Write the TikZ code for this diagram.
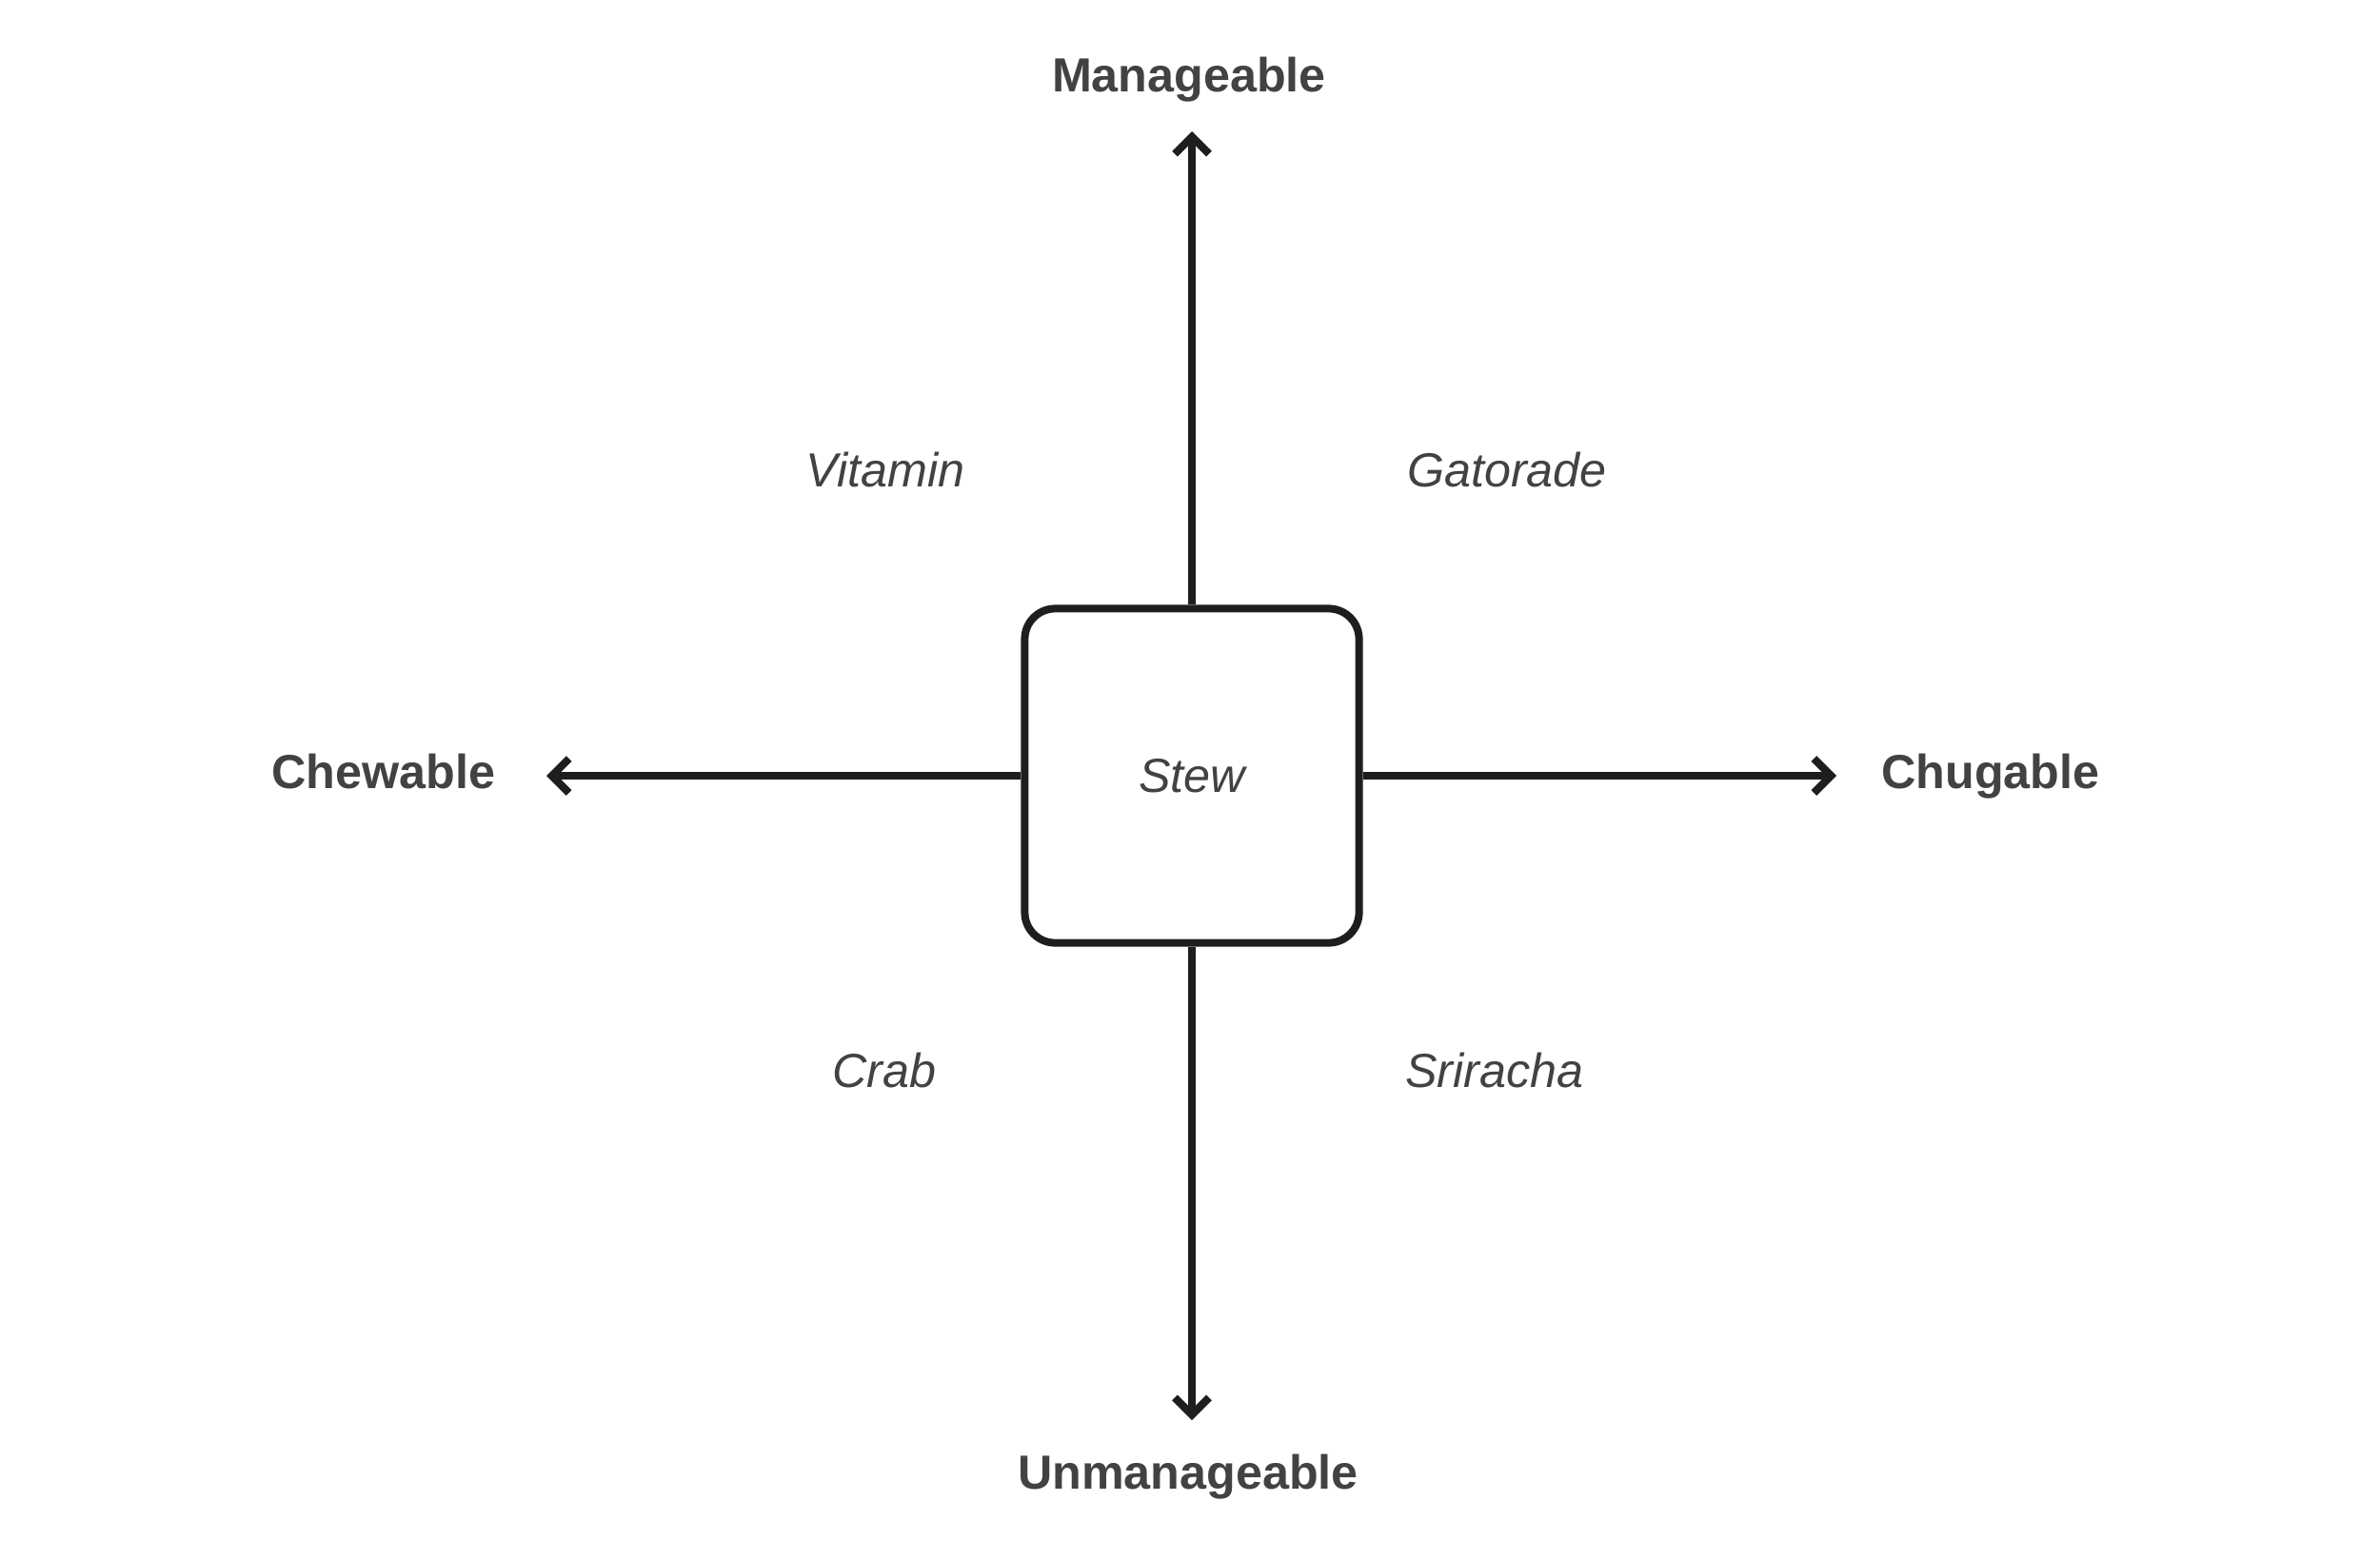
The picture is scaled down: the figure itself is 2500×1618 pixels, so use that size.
\documentclass[tikz,border=0pt]{standalone}
\usepackage{fontspec}
\setmainfont{Liberation Sans}
\usepackage{tikz}
\usetikzlibrary{arrows.meta,positioning}
\definecolor{inkdark}{HTML}{1E1E1E}
\definecolor{textgray}{HTML}{424242}

\begin{document}
\begin{tikzpicture}[x=0.01cm, y=-0.01cm,
    quad/.style={draw=inkdark, line width=0.08cm, rounded corners=0.32cm, minimum size=3.51cm, inner sep=0pt},
    axis/.style={draw=inkdark, line width=0.08cm, -{Straight Barb[length=0.18cm, width=0.36cm]}},
    pole/.style={anchor=base, text=textgray, font=\fontsize{14.3}{17}\selectfont\bfseries},
    item/.style={text=textgray, font=\fontsize{14.3}{17}\selectfont\itshape},
    tag/.style={item, anchor=base}]
    \useasboundingbox (0,0) rectangle (2500,1618);
    % centre box
    \node[quad, item] (stew) at (1252,815) {Stew};
    % axis ends
    \coordinate (upend) at (1252,138);
    \coordinate (downend) at (1252,1492);
    \coordinate (leftend) at (574,815);
    \coordinate (rightend) at (1929,815);
    \draw[axis] (stew.north) -- (upend);
    \draw[axis] (stew.south) -- (downend);
    \draw[axis] (stew.west) -- (leftend);
    \draw[axis] (stew.east) -- (rightend);
    % axis labels (placed on their baselines)
    \node[pole] (manage) at (1249,97) {Manageable};
    \node[pole] (unmanage) at (1248,1564) {Unmanageable};
    \node[pole] (chew) at (403,828) {Chewable};
    \node[pole] (chug) at (2091,828) {Chugable};
    % quadrant items
    \node[tag] (vitamin) at (930,511) {Vitamin};
    \node[tag] (gatorade) at (1583,511) {Gatorade};
    \node[tag] (crab) at (929,1142) {Crab};
    \node[tag] (sriracha) at (1570,1142) {Sriracha};
\end{tikzpicture}
\end{document}
